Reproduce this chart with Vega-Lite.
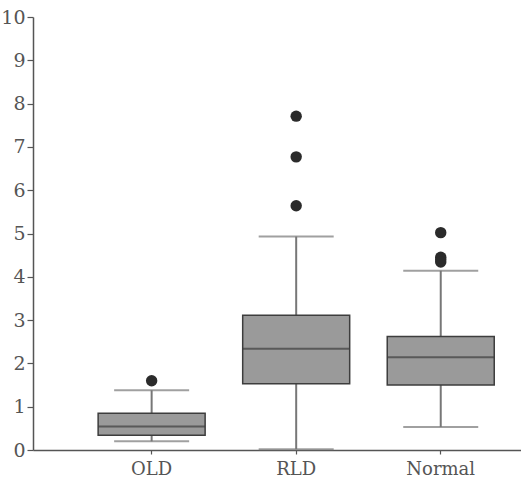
{
  "$schema": "https://vega.github.io/schema/vega-lite/v6.json",
  "width": 488,
  "height": 433,
  "autosize": "none",
  "padding": {"left": 33, "top": 17, "right": 0, "bottom": 40},
  "background": "white",
  "config": {"view": {"stroke": null}},
  "datasets": {
    "stats": [
      {"group": "OLD", "min": 0.2, "q1": 0.34, "median": 0.54, "q3": 0.85, "max": 1.38},
      {"group": "RLD", "min": 0.02, "q1": 1.53, "median": 2.34, "q3": 3.11, "max": 4.93},
      {"group": "Normal", "min": 0.53, "q1": 1.5, "median": 2.14, "q3": 2.62, "max": 4.14}
    ],
    "outliers": [
      {"group": "OLD", "value": 1.6},
      {"group": "RLD", "value": 5.64},
      {"group": "RLD", "value": 6.77},
      {"group": "RLD", "value": 7.71},
      {"group": "Normal", "value": 5.02},
      {"group": "Normal", "value": 4.45},
      {"group": "Normal", "value": 4.4},
      {"group": "Normal", "value": 4.34}
    ]
  },
  "encoding": {
    "x": {
      "field": "group",
      "type": "nominal",
      "sort": ["OLD", "RLD", "Normal"],
      "scale": {"type": "band", "paddingInner": 0, "paddingOuter": 0.188, "align": 0.853},
      "axis": {
        "title": null,
        "labelAngle": 0,
        "labelFont": "DejaVu Serif",
        "labelFontSize": 18,
        "labelColor": "#555555",
        "labelPadding": 6,
        "domainColor": "#555555",
        "domainWidth": 1.5,
        "tickColor": "#555555",
        "tickSize": 4,
        "tickWidth": 1.2
      }
    }
  },
  "layer": [
    {
      "data": {"name": "stats"},
      "mark": {"type": "rule", "color": "#777777", "strokeWidth": 2},
      "encoding": {
        "y": {
          "field": "min",
          "type": "quantitative",
          "scale": {"domain": [0, 10], "nice": false, "zero": true},
          "axis": {
            "title": null,
            "grid": false,
            "values": [0, 0.5, 1, 1.5, 2, 2.5, 3, 3.5, 4, 4.5, 5, 5.5, 6, 6.5, 7, 7.5, 8, 8.5, 9, 9.5, 10],
            "labelExpr": "datum.value % 1 ? '' : datum.label",
            "labelFont": "DejaVu Serif",
            "labelFontSize": 19,
            "labelColor": "#555555",
            "labelPadding": 2,
            "domainColor": "#555555",
            "domainWidth": 1.5,
            "tickColor": "#555555",
            "tickWidth": 1.2,
            "tickSize": {"condition": {"test": "datum.value % 1 !== 0", "value": 4}, "value": 6}
          }
        },
        "y2": {"field": "max"}
      }
    },
    {
      "data": {"name": "stats"},
      "mark": {"type": "tick", "color": "#777777", "size": 75, "thickness": 2},
      "encoding": {"y": {"field": "min", "type": "quantitative"}}
    },
    {
      "data": {"name": "stats"},
      "mark": {"type": "tick", "color": "#777777", "size": 75, "thickness": 2},
      "encoding": {"y": {"field": "max", "type": "quantitative"}}
    },
    {
      "data": {"name": "stats"},
      "mark": {"type": "bar", "size": 107, "fill": "#9a9a9a", "stroke": "#3d3d3d", "strokeWidth": 1.5},
      "encoding": {
        "y": {"field": "q1", "type": "quantitative"},
        "y2": {"field": "q3"}
      }
    },
    {
      "data": {"name": "stats"},
      "mark": {"type": "tick", "color": "#3d3d3d", "size": 107, "thickness": 2},
      "encoding": {"y": {"field": "median", "type": "quantitative"}}
    },
    {
      "data": {"name": "outliers"},
      "mark": {"type": "point", "filled": true, "color": "#2b2b2b", "size": 130, "opacity": 1},
      "encoding": {"y": {"field": "value", "type": "quantitative"}}
    }
  ]
}
